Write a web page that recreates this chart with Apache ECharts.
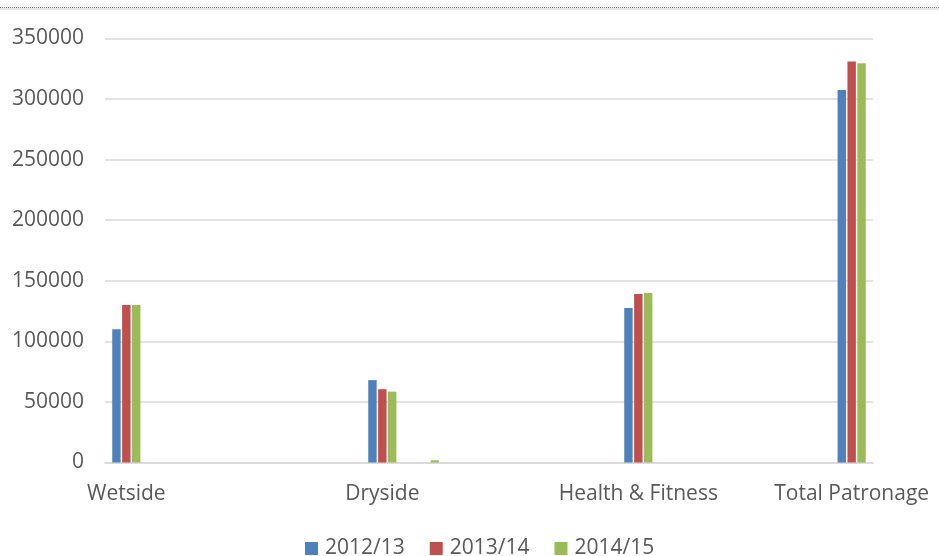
<!DOCTYPE html>
<html>
<head>
<meta charset="utf-8">
<script src="https://cdn.jsdelivr.net/npm/echarts@6/dist/echarts.min.js"></script>
<style>
  html, body { margin: 0; padding: 0; background: #fff; }
  #chart { width: 939px; height: 556px; }
</style>
</head>
<body>
<div id="chart"></div>
<script>
// Category slots along the axis; only some carry a printed label.
const categories = [
  'Wetside', '', '', '', '', '',
  'Dryside', '', '', '', '', '',
  'Health & Fitness', '', '', '', '',
  'Total Patronage'
];
const seriesNames = ['2012/13', '2013/14', '2014/15'];

// Patronage per slot (null = empty slot)
const v2012 = [110000, null, null, null, null, null, 68000, null, null, null, null, null, 127500, null, null, null, null, 307500];
const v2013 = [130000, null, null, null, null, null, 60500, null, null, null, null, null, 139000, null, null, null, null, 331000];
const v2014 = [130000, null, null, null, null, null, 58500, 1800, null, null, null, null, 140000, null, null, null, null, 329500];

const yTicks = { min: 0, max: 350000, interval: 50000 };
const colors = ['#4F81BD', '#C0504D', '#9BBB59'];

const FONT = '"Open Sans", "Liberation Sans", sans-serif';
const TEXT = '#595959';
const GRID = '#d9d9d9';

const chart = echarts.init(document.getElementById('chart'), null, { renderer: 'canvas' });

function barSeries(name, data, color) {
  return {
    name: name,
    type: 'bar',
    data: data,
    barGap: '17%',
    barCategoryGap: '34%',
    itemStyle: { color: color },
    emphasis: { disabled: true }
  };
}

chart.setOption({
  animation: false,
  color: colors,
  graphic: [
    {
      type: 'line',
      shape: { x1: 0, y1: 7.5, x2: 939, y2: 7.5 },
      style: { stroke: '#7a7a7a', lineWidth: 1, lineDash: [1, 1] },
      silent: true
    },
    {
      type: 'line',
      shape: { x1: 0, y1: 9, x2: 939, y2: 9 },
      style: { stroke: '#d0d0d0', lineWidth: 1 },
      silent: true
    }
  ],
  grid: { left: 105, right: 66, top: 38.5, bottom: 93.5, containLabel: false },
  legend: {
    data: seriesNames,
    left: 300,
    top: 533,
    icon: 'rect',
    itemWidth: 13,
    itemHeight: 13,
    itemGap: 25,
    textStyle: { fontFamily: FONT, fontSize: 21, color: TEXT, padding: [0, 0, 0, 2] }
  },
  xAxis: {
    type: 'category',
    data: categories,
    axisLine: { show: true, lineStyle: { color: GRID, width: 1.5 } },
    axisTick: { show: false },
    axisLabel: { interval: 0, margin: 21, fontFamily: FONT, fontSize: 21, color: TEXT }
  },
  yAxis: {
    type: 'value',
    min: yTicks.min,
    max: yTicks.max,
    interval: yTicks.interval,
    axisLine: { show: false },
    axisTick: { show: false },
    splitLine: { lineStyle: { color: GRID, width: 1.5 } },
    axisLabel: {
      margin: 21, fontFamily: FONT, fontSize: 21, color: TEXT,
      formatter: function (v) { return String(v); }
    }
  },
  series: [
    barSeries(seriesNames[0], v2012, colors[0]),
    barSeries(seriesNames[1], v2013, colors[1]),
    barSeries(seriesNames[2], v2014, colors[2])
  ]
});
</script>
</body>
</html>
